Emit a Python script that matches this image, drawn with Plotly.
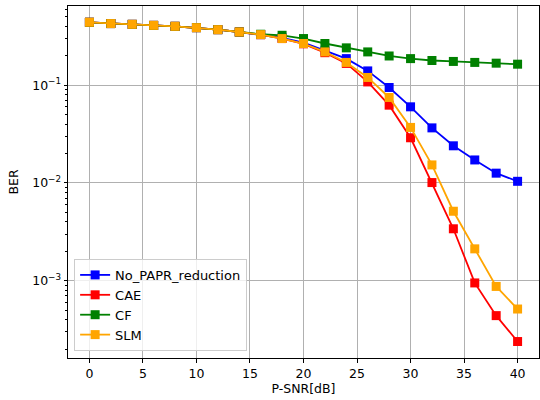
import plotly.graph_objects as go

snr = [0, 2, 4, 6, 8, 10, 12, 14, 16, 18, 20, 22, 24, 26, 28, 30, 32, 34, 36, 38, 40]

ber_no_papr = [0.44, 0.427, 0.419, 0.409, 0.400, 0.388, 0.370, 0.350, 0.329, 0.305, 0.272,
               0.224, 0.187, 0.140, 0.0948, 0.0601, 0.0366, 0.0240, 0.0172, 0.0126, 0.0104]
ber_cae = [0.44, 0.427, 0.419, 0.409, 0.400, 0.388, 0.370, 0.350, 0.329, 0.300, 0.265,
           0.215, 0.167, 0.108, 0.0625, 0.029, 0.0101, 0.0034, 0.00095, 0.00044, 0.000239]
ber_cf = [0.44, 0.427, 0.419, 0.409, 0.400, 0.388, 0.370, 0.350, 0.332, 0.324, 0.300,
          0.267, 0.241, 0.219, 0.199, 0.187, 0.179, 0.175, 0.171, 0.168, 0.164]
ber_slm = [0.44, 0.427, 0.419, 0.409, 0.400, 0.388, 0.370, 0.350, 0.329, 0.300, 0.267,
           0.219, 0.171, 0.120, 0.0749, 0.0370, 0.0153, 0.00514, 0.00212, 0.000875, 0.000514]

series = [
    ("No_PAPR_reduction", ber_no_papr, "#0000ff"),
    ("CAE", ber_cae, "#ff0000"),
    ("CF", ber_cf, "#008000"),
    ("SLM", ber_slm, "#ffa500"),
]

x_ticks = [0, 5, 10, 15, 20, 25, 30, 35, 40]
y_ticks = [1e-3, 1e-2, 1e-1]
y_ticktext = ["10<sup>\u22123</sup>", "10<sup>\u22122</sup>", "10<sup>\u22121</sup>"]

fig = go.Figure()
for name, vals, col in series:
    fig.add_trace(go.Scatter(
        x=snr, y=vals, name=name, mode="lines+markers",
        line=dict(color=col, width=1.8),
        marker=dict(symbol="square", size=9, color=col),
    ))

minor_vals = []
for e in [-4, -3, -2, -1]:
    for m in range(2, 10):
        minor_vals.append(m * 10 ** e)

font = "DejaVu Sans"
fs = 12.5
fig.update_layout(
    width=540, height=400,
    margin=dict(l=68, r=1, t=6, b=42),
    paper_bgcolor="white", plot_bgcolor="white",
    font=dict(family=font, size=fs, color="black"),
    showlegend=True,
    legend=dict(x=0.013, y=0.02, xanchor="left", yanchor="bottom",
                bgcolor="rgba(255,255,255,0.8)", bordercolor="#cccccc", borderwidth=1,
                font=dict(family=font, size=13), itemwidth=30, tracegroupgap=0),
)
fig.update_xaxes(
    range=[-2, 42], tickvals=x_ticks, ticks="outside", ticklen=3.5, tickcolor="black",
    showline=True, linecolor="black", linewidth=1, mirror=True,
    showgrid=True, gridcolor="#b0b0b0", gridwidth=0.8, zeroline=False,
    tickfont=dict(size=fs),
    title=dict(text="P-SNR[dB]", font=dict(family=font, size=fs), standoff=3),
)
fig.update_yaxes(
    type="log", range=[-3.79, -0.19], tickvals=y_ticks, ticktext=y_ticktext,
    ticks="outside", ticklen=3.5, tickcolor="black",
    showline=True, linecolor="black", linewidth=1, mirror=True,
    showgrid=True, gridcolor="#b0b0b0", gridwidth=0.8, zeroline=False,
    tickfont=dict(size=fs),
    minor=dict(tickvals=minor_vals, ticks="outside", ticklen=2, tickcolor="black", showgrid=False),
    title=dict(text="BER", font=dict(family=font, size=fs), standoff=10),
)
fig.write_html("out.html")
